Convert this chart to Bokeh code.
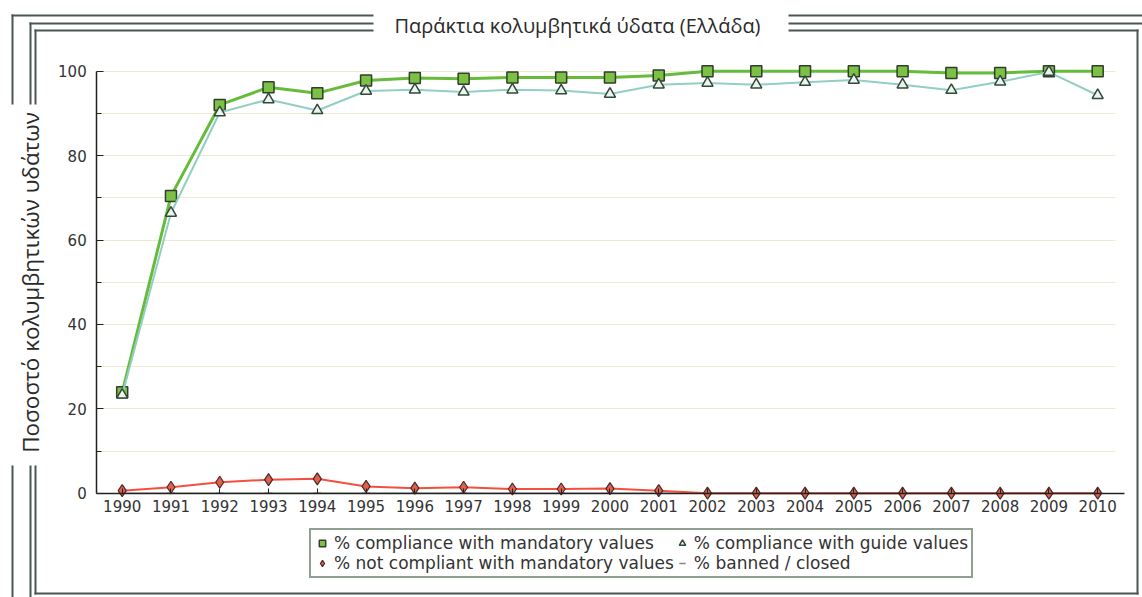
from bokeh.plotting import figure
from bokeh.models import (Range1d, FixedTicker, Legend, LegendItem, BoxAnnotation, Label,
                          ColumnDataSource)
from bokeh.embed import file_html
from bokeh.resources import INLINE

years = list(range(1990, 2011))
mandatory = [23.9, 70.4, 92.0, 96.2, 94.8, 97.8, 98.4, 98.2, 98.5, 98.5, 98.5, 99.0,
             100.0, 100.0, 100.0, 100.0, 100.0, 99.6, 99.6, 100.0, 100.0]
guide = [23.3, 66.4, 90.2, 93.3, 90.7, 95.3, 95.6, 95.1, 95.6, 95.4, 94.6, 96.8,
         97.2, 96.8, 97.4, 97.9, 96.8, 95.5, 97.5, 99.8, 94.3]
not_compliant = [0.6, 1.4, 2.6, 3.2, 3.4, 1.6, 1.2, 1.4, 1.0, 1.0, 1.1, 0.6,
                 0, 0, 0, 0, 0, 0, 0, 0, 0]
banned = [0] * 21
y_ticks = [0, 20, 40, 60, 80, 100]
y_minor = [10, 30, 50, 70, 90]
grid_values = [10, 20, 30, 40, 50, 60, 70, 80, 90, 100]
title_text = "Παράκτια κολυμβητικά ύδατα (Ελλάδα)"
y_label = "Ποσοστό κολυμβητικών υδάτων"
legend_labels = ["% compliance with mandatory values", "% compliance with guide values",
                 "% not compliant with mandatory values", "% banned / closed"]

src = ColumnDataSource(dict(x=years, m=mandatory, g=guide, n=not_compliant, b=banned))

W, H = 1142, 597
# pixel mapping of the whole canvas (frame == canvas)
KX = 48.775          # px per year
X0 = 1990 - 121.7 / KX
KY = 4.22            # px per percent
YT = 100 + 70.7 / KY
X1 = X0 + W / KX
YB = YT - H / KY
AX_L = X0 + 96.2 / KX    # left end of axes
AX_R = X0 + 1124 / KX    # right end of x axis


def dx(px):
    return X0 + px / KX


def dy(py):
    return YT - py / KY


p = figure(width=W, height=H, output_backend="svg", toolbar_location=None,
           x_range=Range1d(X0, X1), y_range=Range1d(YB, YT),
           min_border=0, min_border_left=0, min_border_right=0,
           min_border_top=0, min_border_bottom=0)
p.outline_line_color = None
p.background_fill_color = "white"
p.border_fill_color = "white"

# grid
p.xgrid.grid_line_color = None
p.ygrid.ticker = FixedTicker(ticks=grid_values)
p.ygrid.grid_line_color = "#ecebd2"
p.ygrid.grid_line_width = 1
_grid_ok = False
try:
    p.ygrid.cross_bounds = (AX_L, dx(1115))
    _grid_ok = True
except Exception:
    _grid_ok = False
if not _grid_ok:
    p.ygrid.grid_line_color = None
    p.segment(x0=[AX_L] * len(grid_values), x1=[dx(1115)] * len(grid_values),
              y0=grid_values, y1=grid_values, line_color="#ecebd2", line_width=1)

# axes (placed inside the canvas-wide frame)
p.yaxis.fixed_location = AX_L
p.yaxis.ticker = FixedTicker(ticks=y_ticks, minor_ticks=y_minor)
p.yaxis.bounds = (0, 100)
p.yaxis.major_tick_in = 7
p.yaxis.major_tick_out = 0
p.yaxis.minor_tick_in = 5
p.yaxis.minor_tick_out = 0
p.yaxis.axis_line_color = "#222222"
p.yaxis.axis_line_width = 1.5
p.yaxis.major_tick_line_color = "#222222"
p.yaxis.minor_tick_line_color = "#222222"
p.yaxis.major_label_text_font = "DejaVu Sans"
p.yaxis.major_label_text_font_size = "15px"
p.yaxis.major_label_text_color = "#333333"
p.yaxis.major_label_standoff = 10
p.yaxis.axis_label = y_label
p.yaxis.axis_label_text_font = "Open Sans"
p.yaxis.axis_label_text_font_style = "normal"
p.yaxis.axis_label_text_font_size = "22.5px"
p.yaxis.axis_label_text_color = "#2a2a2a"
p.yaxis.axis_label_standoff = 9

p.xaxis.fixed_location = 0
p.xaxis.ticker = FixedTicker(ticks=years, minor_ticks=[])
p.xaxis.bounds = (AX_L, AX_R)
p.xaxis.major_tick_in = 5
p.xaxis.major_tick_out = 0
p.xaxis.axis_line_color = "#222222"
p.xaxis.axis_line_width = 1.5
p.xaxis.major_tick_line_color = "#222222"
p.xaxis.major_label_text_font = "DejaVu Sans"
p.xaxis.major_label_text_font_size = "15px"
p.xaxis.major_label_text_color = "#333333"
p.xaxis.major_label_standoff = 7

# series
l_b = p.line("x", "b", source=src, line_color="#3a5a3a", line_width=1)
s_b = p.scatter("x", "b", source=src, marker="dash", size=8, line_color="#888888",
                line_width=1.5)
l_m = p.line("x", "m", source=src, line_color="#66bb3a", line_width=3)
s_m = p.scatter("x", "m", source=src, marker="square", size=11, fill_color="#7dc046",
                line_color="#2f3f2a", line_width=1.5)
l_g = p.line("x", "g", source=src, line_color="#92cfc2", line_width=2)
s_g = p.scatter("x", "g", source=src, marker="triangle", size=11, fill_color="#eef3ee",
                line_color="#2f4a3a", line_width=1.5)
l_n = p.line("x", "n", source=src, line_color="#f5503f", line_width=2)
s_n = p.scatter("x", "n", source=src, marker="diamond", size=12, fill_color="#e0604c",
                line_color="#4a2a2a", line_width=1.2)

legend = Legend(items=[
    LegendItem(label=legend_labels[0], renderers=[s_m]),
    LegendItem(label=legend_labels[2], renderers=[s_n]),
    LegendItem(label=legend_labels[1], renderers=[s_g]),
    LegendItem(label=legend_labels[3], renderers=[s_b]),
], ncols=2, location=(309, 19))
legend.label_text_font = "DejaVu Sans"
legend.label_text_font_size = "17px"
legend.label_text_color = "#333333"
legend.label_standoff = 4
legend.label_height = 20
legend.glyph_width = 16
legend.glyph_height = 18
legend.spacing = 0
legend.padding = 3
legend.margin = 0
legend.border_line_color = "#1f3f25"
legend.border_line_width = 2
legend.background_fill_color = "white"
legend.background_fill_alpha = 1
p.add_layout(legend, "center")

# decorative double frame (pixel positions converted to data space)
LC = "#4a5650"


def hline(x0, x1, y, w=2):
    p.add_layout(BoxAnnotation(left=dx(x0), right=dx(x1), top=dy(y), bottom=dy(y + w),
                               fill_color=LC, fill_alpha=1, line_color=None,
                               level="overlay"))


def vline(x, y0, y1, w=2):
    p.add_layout(BoxAnnotation(left=dx(x), right=dx(x + w), top=dy(y0), bottom=dy(y1),
                               fill_color=LC, fill_alpha=1, line_color=None,
                               level="overlay"))


hline(11, 373, 14)
hline(29, 373, 22)
hline(34, 373, 29)
hline(788, W, 14)
hline(788, W, 22)
hline(788, 1138, 29)
vline(11, 14, 104)
vline(29, 22, 104)
vline(34, 29, 104)
vline(11, 465, H)
vline(29, 465, H)
vline(34, 465, 594)
hline(34, 1138, 592)
vline(1136, 29, 594)

p.add_layout(Label(x=dx(577), y=dy(25), text=title_text,
                   text_font="Open Sans", text_font_size="20px", text_color="#2a2a2a",
                   text_align="center", text_baseline="middle"))

open("out.html", "w").write(file_html(p, INLINE))
